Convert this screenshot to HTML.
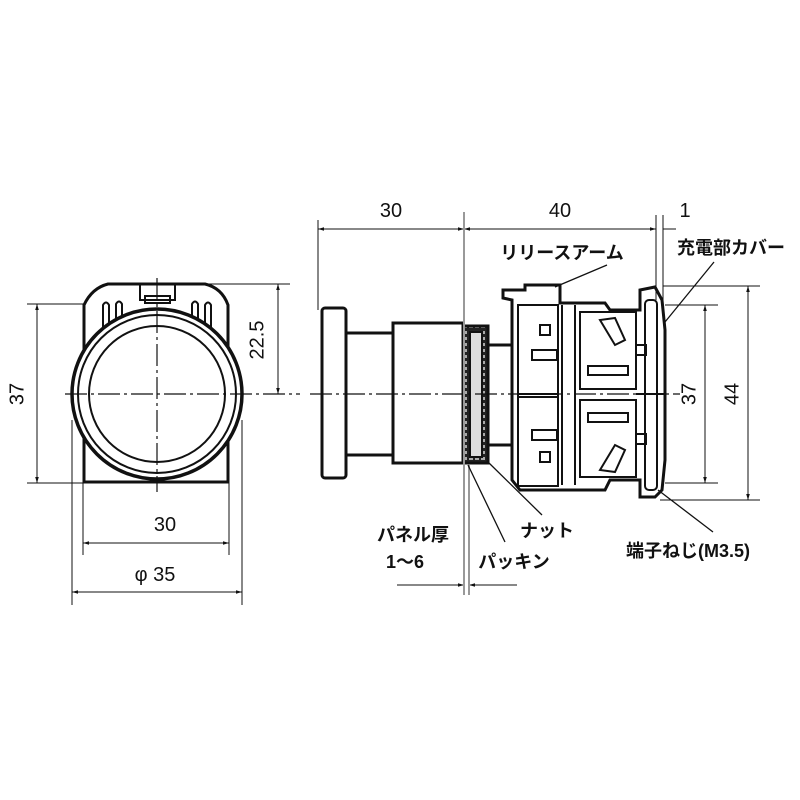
<!DOCTYPE html>
<html><head><meta charset="utf-8"><style>
html,body{margin:0;padding:0;background:#fff;}
svg{display:block}
text{font-family:"Liberation Sans","Noto Sans CJK JP",sans-serif;fill:#111;}
</style></head><body>
<svg width="800" height="800" viewBox="0 0 800 800" xmlns="http://www.w3.org/2000/svg">
<defs>
<marker id="a" viewBox="0 0 10 10" refX="10" refY="5" markerWidth="9" markerHeight="6" orient="auto-start-reverse"><path d="M0,2 L10,5 L0,8 z" fill="#111"/></marker>
<pattern id="t" width="6" height="6" patternUnits="userSpaceOnUse"><rect width="6" height="6" fill="#222"/><rect x="1" y="1" width="4" height="3" fill="#aaa"/></pattern>
</defs>
<g stroke="#111" fill="none">
<!-- LEFT VIEW -->
<path d="M84,482 L84,305 Q92,288 108,284 L205,284 Q222,288 228,305 L228,482 Z" stroke-width="3"/>
<rect x="84" y="440" width="144" height="42" fill="#fff" stroke-width="3"/>
<path d="M140,284 L140,300 L175,300 L175,284" stroke-width="2"/>
<rect x="145" y="296" width="25" height="7" stroke-width="2"/>
<path d="M103,330 L103,305 Q106,300 109,305 L109,325 M116,320 L116,304 Q119,299 122,304 L122,318 M192,318 L192,304 Q195,299 198,304 L198,320 M205,325 L205,305 Q208,300 211,305 L211,330" stroke-width="2"/>
<circle cx="157" cy="394" r="85" fill="#fff" stroke-width="3.5"/>
<circle cx="157" cy="394" r="79" stroke-width="2"/>
<circle cx="157" cy="394" r="68" stroke-width="2"/>
<g stroke-width="1.2" stroke-dasharray="22,4,3,4">
<line x1="157" y1="278" x2="157" y2="492"/>
<line x1="65" y1="394" x2="300" y2="394"/>
</g>
<g stroke-width="1">
<line x1="27" y1="304" x2="84" y2="304"/>
<line x1="27" y1="483" x2="84" y2="483"/>
<line x1="200" y1="284" x2="290" y2="284"/>
<line x1="83" y1="483" x2="83" y2="555"/>
<line x1="229" y1="483" x2="229" y2="555"/>
<line x1="72" y1="420" x2="72" y2="605"/>
<line x1="242" y1="420" x2="242" y2="605"/>
<line x1="37" y1="304" x2="37" y2="483" marker-start="url(#a)" marker-end="url(#a)"/>
<line x1="278" y1="284" x2="278" y2="394" marker-start="url(#a)" marker-end="url(#a)"/>
<line x1="83" y1="543" x2="229" y2="543" marker-start="url(#a)" marker-end="url(#a)"/>
<line x1="72" y1="592" x2="242" y2="592" marker-start="url(#a)" marker-end="url(#a)"/>
</g>
<!-- RIGHT VIEW -->
<g stroke-width="3">
<rect x="322" y="308" width="24" height="170" rx="3"/>
<rect x="346" y="333" width="47" height="122"/>
<rect x="393" y="323" width="70" height="140"/>
<rect x="463" y="326" width="25" height="137" fill="url(#t)"/>
<rect x="488" y="345" width="24" height="100"/>
<path d="M512,345 L512,300 L503,298 L503,290 L525,290 L525,285 L560,285 L560,303 L605,303 L610,310 L640,310 L640,290 L655,287 L662,300 L665,330 L665,460 L662,490 L655,497 L640,497 L640,480 L610,480 L605,490 L520,490 L512,480 L512,445"/>
</g>
<g stroke-width="2">
<rect x="470" y="332" width="12" height="125" fill="#ddd"/>
<rect x="518" y="305" width="40" height="92"/>
<rect x="518" y="394" width="40" height="92"/>
<line x1="562" y1="305" x2="562" y2="485"/>
<line x1="575" y1="305" x2="575" y2="485"/>
<rect x="580" y="312" width="56" height="77"/>
<rect x="580" y="400" width="56" height="77"/>
<line x1="636" y1="394" x2="665" y2="394"/>
<rect x="540" y="325" width="10" height="10"/><rect x="540" y="452" width="10" height="10"/>
<rect x="532" y="350" width="25" height="10"/><rect x="532" y="430" width="25" height="10"/>
<rect x="588" y="366" width="40" height="9"/><rect x="588" y="413" width="40" height="9"/>
<rect x="636" y="345" width="10" height="10"/><rect x="636" y="434" width="10" height="10"/>
<path d="M600,320 L615,345 L625,340 L615,318 Z M600,470 L615,445 L625,450 L615,472 Z"/>
<rect x="645" y="300" width="12" height="190" rx="4"/>
</g>
<g stroke-width="1.2" stroke-dasharray="22,4,3,4">
<line x1="310" y1="394" x2="680" y2="394"/>
</g>
<g stroke-width="1">
<line x1="318" y1="220" x2="318" y2="310"/>
<line x1="318" y1="229" x2="464" y2="229" marker-start="url(#a)" marker-end="url(#a)"/>
<line x1="464" y1="229" x2="656" y2="229" marker-start="url(#a)" marker-end="url(#a)"/>
<line x1="663" y1="229" x2="676" y2="229"/>
<line x1="656" y1="215" x2="656" y2="300"/>
<line x1="663" y1="215" x2="663" y2="300"/>
<line x1="663" y1="286" x2="760" y2="286"/>
<line x1="665" y1="305" x2="718" y2="305"/>
<line x1="665" y1="483" x2="718" y2="483"/>
<line x1="660" y1="500" x2="760" y2="500"/>
<line x1="705" y1="305" x2="705" y2="483" marker-start="url(#a)" marker-end="url(#a)"/>
<line x1="748" y1="286" x2="748" y2="500" marker-start="url(#a)" marker-end="url(#a)"/>
<line x1="397" y1="585" x2="464" y2="585" marker-end="url(#a)"/>
<line x1="517" y1="585" x2="469" y2="585" marker-end="url(#a)"/>
</g>
<g stroke="#999" stroke-width="2">
<line x1="464" y1="212" x2="464" y2="595"/>
<line x1="469" y1="465" x2="469" y2="595"/>
</g>
<g stroke-width="1.3">
<line x1="607" y1="265" x2="555" y2="287"/>
<line x1="714" y1="262" x2="665" y2="322"/>
<line x1="542" y1="515" x2="488" y2="462"/>
<line x1="505" y1="542" x2="468" y2="465"/>
<line x1="713" y1="532" x2="658" y2="490"/>
</g>
</g>
<g font-size="20">
<text x="18" y="394" text-anchor="middle" transform="rotate(-90 18 394)" dominant-baseline="middle">37</text>
<text x="258" y="340" text-anchor="middle" transform="rotate(-90 258 340)" dominant-baseline="middle">22.5</text>
<text x="165" y="531" text-anchor="middle">30</text>
<text x="155" y="581" text-anchor="middle">φ 35</text>
<text x="391" y="217" text-anchor="middle">30</text>
<text x="560" y="217" text-anchor="middle">40</text>
<text x="685" y="217" text-anchor="middle">1</text>
<text x="690" y="394" text-anchor="middle" transform="rotate(-90 690 394)" dominant-baseline="middle">37</text>
<text x="733" y="394" text-anchor="middle" transform="rotate(-90 733 394)" dominant-baseline="middle">44</text>
</g>
<g font-size="18" font-weight="bold">
<text x="562" y="259" text-anchor="middle">リリースアーム</text>
<text x="731" y="254" text-anchor="middle">充電部カバー</text>
<text x="547" y="537" text-anchor="middle">ナット</text>
<text x="413" y="541" text-anchor="middle">パネル厚</text>
<text x="405" y="568" text-anchor="middle">1〜6</text>
<text x="514" y="568" text-anchor="middle">パッキン</text>
<text x="688" y="557" text-anchor="middle">端子ねじ(M3.5)</text>
</g>
</svg>
</body></html>
